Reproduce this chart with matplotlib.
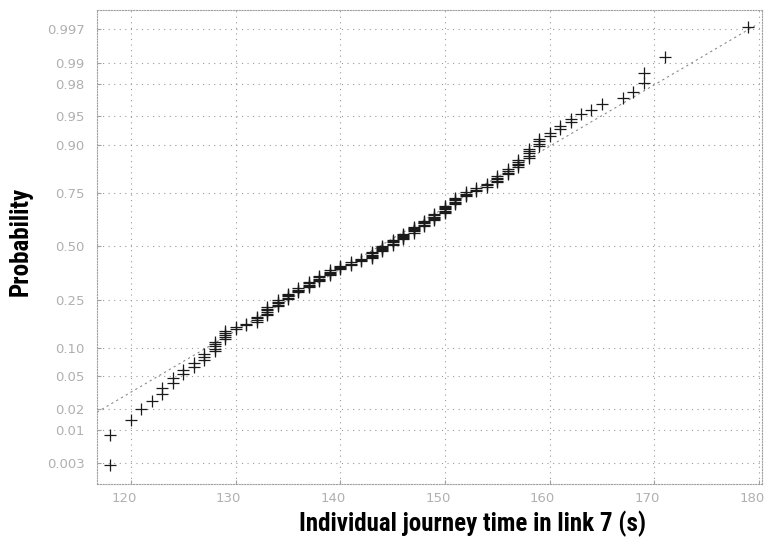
import numpy as np
import matplotlib
matplotlib.use('Agg')
import matplotlib.pyplot as plt
import matplotlib.transforms as mtransforms
from matplotlib import font_manager
from statistics import NormalDist

# journey times (s), with how many points sit at each value
times = [118, 120, 121, 122, 123, 124, 125, 126, 127, 128, 129, 130, 131, 132,
         133, 134, 135, 136, 137, 138, 139, 140, 141, 142, 143, 144, 145, 146,
         147, 148, 149, 150, 151, 152, 153, 154, 155, 156, 157, 158, 159, 160,
         161, 162, 163, 164, 165, 167, 168, 169, 171, 179]
counts = [2, 1, 1, 1, 2, 2, 2, 2, 3, 5, 5, 2, 2, 4,
          6, 5, 5, 4, 5, 5, 5, 4, 3, 3, 6, 6, 5, 6,
          6, 5, 6, 7, 6, 4, 3, 3, 5, 4, 5, 5, 4, 2,
          2, 2, 1, 1, 1, 1, 1, 2, 1, 1]

# fitted reference line (end points as seen on the chart)
ref_x = [116.75, 179.7]
ref_p = [0.0179, 0.99744]

prob_ticks = [0.003, 0.01, 0.02, 0.05, 0.10, 0.25, 0.50, 0.75, 0.90, 0.95, 0.98, 0.99, 0.997]
prob_labels = ['0.003', '0.01', '0.02', '0.05', '0.10', '0.25', '0.50', '0.75',
               '0.90', '0.95', '0.98', '0.99', '0.997']
x_ticks = [120, 130, 140, 150, 160, 170, 180]

nd = NormalDist()
data = np.sort(np.repeat(times, counts))
n = len(data)
z = [nd.inv_cdf((i - 0.5) / n) for i in range(1, n + 1)]

# a narrow bold face if there is one, else plain DejaVu
names = {f.name for f in font_manager.fontManager.ttflist}
narrow = None
for cand in ['Liberation Sans Narrow', 'DejaVu Sans Condensed', 'Roboto Condensed']:
    if cand in names:
        narrow = cand
        break

fig = plt.figure(figsize=(7.67, 5.39), dpi=100)
ax = fig.add_axes([0.1265, 0.102, 0.867, 0.879])

ax.plot(ref_x, [nd.inv_cdf(p) for p in ref_p], color='#8a8a8a', lw=0.8,
        linestyle=(0, (2, 3)), zorder=2)
ax.plot(data, z, linestyle='none', marker='+', markersize=9, mew=0.9,
        color='#1a1a1a', zorder=3)

ax.set_xlim(116.75, 180.3)
ax.set_ylim(-3.01, 2.99)
ax.set_xticks(x_ticks)
ax.set_xticklabels([str(t) for t in x_ticks])
ax.set_yticks([nd.inv_cdf(p) for p in prob_ticks])
ax.set_yticklabels(prob_labels)

ax.grid(True, color='#9a9a9a', linestyle=(0, (1, 4)), lw=0.8)
for s in ax.spines.values():
    s.set_color('#a0a0a0')
    s.set_linestyle((0, (1, 1.5)))
    s.set_linewidth(0.8)
ax.tick_params(direction='in', length=3, color='#a0a0a0', labelcolor='#b0b0b0',
               labelsize=9.5)
ax.tick_params(axis='y', pad=9)
ax.tick_params(axis='x', pad=6)

# x tick labels sit a little left of their grid lines
shift = mtransforms.ScaledTranslation(-7 / 100, 0, fig.dpi_scale_trans)
for lab in ax.get_xticklabels():
    lab.set_transform(lab.get_transform() + shift)

if narrow:
    lab_font = dict(family=[narrow, 'DejaVu Sans'], fontsize=18)
else:
    lab_font = dict(family=['DejaVu Sans'], fontstretch='condensed', fontsize=14)
lab_font.update(fontweight='bold', color='black')
ax.set_xlabel('Individual journey time in link 7 (s)', **lab_font)
ax.xaxis.set_label_coords(0.564, -0.057)
ax.set_ylabel('Probability', **lab_font)
ax.yaxis.set_label_coords(-0.097, 0.513)

fig.savefig('out.png', dpi=100)
